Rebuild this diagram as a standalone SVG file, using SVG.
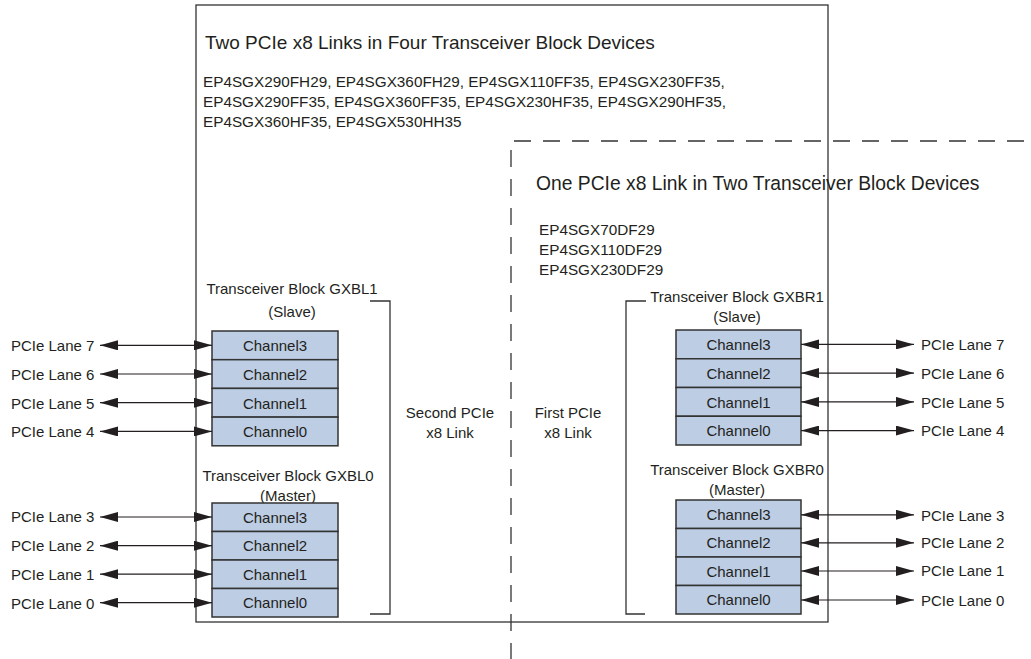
<svg xmlns="http://www.w3.org/2000/svg" width="1031" height="659" viewBox="0 0 1031 659">
<style>
text{font-family:"Liberation Sans",Arial,sans-serif;fill:#231f20;font-size:15px}
.title{font-size:19px}
.title2{font-size:19.3px}
.dev{font-size:15.3px}
.mid{text-anchor:middle}
.ch{fill:#bccde4;stroke:#333;stroke-width:1.5}
.ln{fill:none;stroke:#333;stroke-width:1.3}
.dash{fill:none;stroke:#333;stroke-width:1.3;stroke-dasharray:17 12}
.arr{fill:none;stroke:#231f20;stroke-width:1.2;marker-start:url(#ah);marker-end:url(#ah)}
</style>
<defs>
<marker id="ah" viewBox="0 0 18 10" refX="18" refY="5" markerWidth="18" markerHeight="10" markerUnits="userSpaceOnUse" orient="auto-start-reverse">
<path d="M0,0 L18,5 L0,10 Z" fill="#231f20"/>
</marker>
</defs>
<rect width="1031" height="659" fill="#fff"/>
<g id="outer-box">
<rect class="ln" x="196" y="5" width="632" height="617"/>
<text class="title" x="205" y="49">Two PCIe x8 Links in Four Transceiver Block Devices</text>
<text class="dev" x="203" y="87">EP4SGX290FH29, EP4SGX360FH29, EP4SGX110FF35, EP4SGX230FF35,</text>
<text class="dev" x="203" y="107">EP4SGX290FF35, EP4SGX360FF35, EP4SGX230HF35, EP4SGX290HF35,</text>
<text class="dev" x="203" y="127">EP4SGX360HF35, EP4SGX530HH35</text>
</g>
<g id="dashed-box">
<path class="dash" d="M511,660 V141 H1031"/>
<text class="title2" x="536" y="190">One  PCIe x8 Link in Two Transceiver Block Devices</text>
<text class="dev" x="539" y="235">EP4SGX70DF29</text>
<text class="dev" x="539" y="255">EP4SGX110DF29</text>
<text class="dev" x="539" y="275">EP4SGX230DF29</text>
</g>
<g id="second-link">
<path class="ln" d="M370,301 H390 V614 H370"/>
<text class="mid" x="450" y="418">Second PCIe</text>
<text class="mid" x="450" y="438">x8 Link</text>
</g>
<g id="first-link">
<path class="ln" d="M646,301 H626 V614 H645"/>
<text class="mid" x="568" y="418">First PCIe</text>
<text class="mid" x="568" y="438">x8 Link</text>
</g>
<g id="gxbl1">
<text class="mid" x="292" y="293.5">Transceiver Block GXBL1</text>
<text class="mid" x="292" y="317">(Slave)</text>
<rect class="ch" x="212" y="331" width="126" height="28.7"/>
<rect class="ch" x="212" y="359.7" width="126" height="28.7"/>
<rect class="ch" x="212" y="388.4" width="126" height="28.7"/>
<rect class="ch" x="212" y="417.1" width="126" height="28.7"/>
<text class="mid" x="275" y="351">Channel3</text>
<text class="mid" x="275" y="380">Channel2</text>
<text class="mid" x="275" y="408.5">Channel1</text>
<text class="mid" x="275" y="437">Channel0</text>
</g>
<g id="gxbl0">
<text class="mid" x="288" y="480.5">Transceiver Block GXBL0</text>
<text class="mid" x="288" y="500.5">(Master)</text>
<rect class="ch" x="212" y="503" width="126" height="28.5"/>
<rect class="ch" x="212" y="531.5" width="126" height="28.5"/>
<rect class="ch" x="212" y="560" width="126" height="28.5"/>
<rect class="ch" x="212" y="588.5" width="126" height="28.5"/>
<text class="mid" x="275" y="522.5">Channel3</text>
<text class="mid" x="275" y="551">Channel2</text>
<text class="mid" x="275" y="579.5">Channel1</text>
<text class="mid" x="275" y="608">Channel0</text>
</g>
<g id="gxbr1">
<text class="mid" x="737" y="302">Transceiver Block GXBR1</text>
<text class="mid" x="737" y="322">(Slave)</text>
<rect class="ch" x="676" y="330" width="125" height="28.75"/>
<rect class="ch" x="676" y="358.75" width="125" height="28.75"/>
<rect class="ch" x="676" y="387.5" width="125" height="28.75"/>
<rect class="ch" x="676" y="416.25" width="125" height="28.75"/>
<text class="mid" x="738.5" y="350">Channel3</text>
<text class="mid" x="738.5" y="379">Channel2</text>
<text class="mid" x="738.5" y="407.5">Channel1</text>
<text class="mid" x="738.5" y="436">Channel0</text>
</g>
<g id="gxbr0">
<text class="mid" x="737" y="475">Transceiver Block GXBR0</text>
<text class="mid" x="737" y="495">(Master)</text>
<rect class="ch" x="676" y="500" width="125" height="28.5"/>
<rect class="ch" x="676" y="528.5" width="125" height="28.5"/>
<rect class="ch" x="676" y="557" width="125" height="28.5"/>
<rect class="ch" x="676" y="585.5" width="125" height="28.5"/>
<text class="mid" x="738.5" y="519.5">Channel3</text>
<text class="mid" x="738.5" y="548">Channel2</text>
<text class="mid" x="738.5" y="576.5">Channel1</text>
<text class="mid" x="738.5" y="605">Channel0</text>
</g>
<g id="lane-labels">
<text x="11" y="351">PCIe Lane 7</text>
<text x="11" y="380">PCIe Lane 6</text>
<text x="11" y="408.5">PCIe Lane 5</text>
<text x="11" y="437">PCIe Lane 4</text>
<text x="11" y="522">PCIe Lane 3</text>
<text x="11" y="551">PCIe Lane 2</text>
<text x="11" y="579.5">PCIe Lane 1</text>
<text x="11" y="608.5">PCIe Lane 0</text>
<text x="921" y="350">PCIe Lane 7</text>
<text x="921" y="379">PCIe Lane 6</text>
<text x="921" y="407.5">PCIe Lane 5</text>
<text x="921" y="436">PCIe Lane 4</text>
<text x="921" y="520.5">PCIe Lane 3</text>
<text x="921" y="548">PCIe Lane 2</text>
<text x="921" y="576">PCIe Lane 1</text>
<text x="921" y="605.5">PCIe Lane 0</text>
</g>
<g id="connectors">
<line class="arr" x1="100" y1="345.3" x2="212" y2="345.3"/>
<line class="arr" x1="100" y1="374" x2="212" y2="374"/>
<line class="arr" x1="100" y1="402.7" x2="212" y2="402.7"/>
<line class="arr" x1="100" y1="431.4" x2="212" y2="431.4"/>
<line class="arr" x1="100" y1="517" x2="212" y2="517"/>
<line class="arr" x1="100" y1="545.7" x2="212" y2="545.7"/>
<line class="arr" x1="100" y1="574.2" x2="212" y2="574.2"/>
<line class="arr" x1="100" y1="602.7" x2="212" y2="602.7"/>
<line class="arr" x1="801" y1="344.4" x2="914" y2="344.4"/>
<line class="arr" x1="801" y1="373.1" x2="914" y2="373.1"/>
<line class="arr" x1="801" y1="401.9" x2="914" y2="401.9"/>
<line class="arr" x1="801" y1="430.6" x2="914" y2="430.6"/>
<line class="arr" x1="801" y1="514.8" x2="914" y2="514.8"/>
<line class="arr" x1="801" y1="542.8" x2="914" y2="542.8"/>
<line class="arr" x1="801" y1="571" x2="914" y2="571"/>
<line class="arr" x1="801" y1="600" x2="914" y2="600"/>
</g>
</svg>
